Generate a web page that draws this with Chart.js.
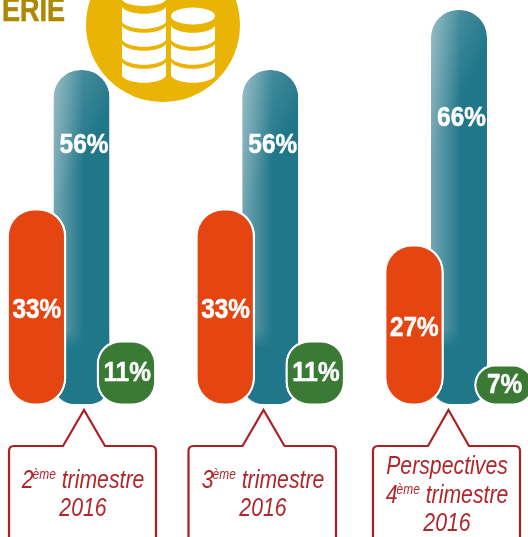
<!DOCTYPE html>
<html>
<head>
<meta charset="utf-8">
<script src="https://cdn.jsdelivr.net/npm/chart.js@4"></script>
<style>
html,body{margin:0;padding:0;background:#fff;width:528px;height:537px;overflow:hidden}
#art{position:absolute;left:0;top:0;z-index:1}
#c{position:absolute;left:0;top:0;z-index:2}
#title{position:absolute;left:2px;top:-7px;z-index:3;font:bold 33px/34px "Liberation Sans";color:#ad8800;transform:scaleX(.82);transform-origin:0 0;-webkit-text-stroke:.5px #ad8800}
.cap{position:absolute;z-index:3;width:148px;text-align:center;font:italic 25px/28.5px "Liberation Sans";color:#b0272b;white-space:nowrap;transform:scaleX(.85);transform-origin:50% 0}
.cap sup{font-size:14px;line-height:0;vertical-align:baseline;position:relative;top:-9px;margin-right:7px;margin-left:-1px}
</style>
</head>
<body>
<svg id="art" width="528" height="537" xmlns="http://www.w3.org/2000/svg">
  <circle cx="163" cy="25" r="77" fill="#e9b404"/>
  <g fill="#fff">
    <path d="M122 7C128 16 160 16 166 7V22C160 31 128 31 122 22Z"/>
    <ellipse cx="144" cy="-1" rx="22" ry="7"/>
    <path d="M122 26C128 35 160 35 166 26V40C160 49 128 49 122 40Z"/>
    <path d="M122 44C128 53 160 53 166 44V58C160 67 128 67 122 58Z"/>
    <path d="M122 62C128 71 160 71 166 62V76C160 85 128 85 122 76Z"/>
    <ellipse cx="193" cy="16" rx="22" ry="8.5"/>
    <path d="M171 26C177 35 209 35 215 26V40C209 49 177 49 171 40Z"/>
    <path d="M171 44C177 53 209 53 215 44V58C209 67 177 67 171 58Z"/>
    <path d="M171 62C177 71 209 71 215 62V76C209 85 177 85 171 76Z"/>
  </g>
  <g fill="none" stroke="#ae1f23" stroke-width="2.2" stroke-linejoin="miter">
    <path d="M9 540V451Q9 446 14 446H63L84 410L105 446H151Q156 446 156 451V540"/>
    <path d="M188.500 540V451Q188.500 446 193.500 446H242.500L263.500 410L284.500 446H331Q336 446 336 451V540"/>
    <path d="M373 540V451Q373 446 378 446H428L448.500 410L469 446H515Q520 446 520 451V540"/>
  </g>
</svg>
<canvas id="c" width="528" height="537"></canvas>
<div id="title">ERIE</div>
<script>
const categories = ["2ème trimestre 2016", "3ème trimestre 2016", "Perspectives 4ème trimestre 2016"];
const seriesOrange = [33, 33, 27];
const seriesTeal = [56, 56, 66];
const seriesGreen = [11, 11, 7];
const tealLabelShare = [0.775, 0.775, 0.727];
const captionLines = [
  [["2", "ème", " trimestre"], ["2016"]],
  [["3", "ème", " trimestre"], ["2016"]],
  [["Perspectives"], ["4", "ème", " trimestre"], ["2016"]]
];
const captionBoxes = [[9, 464.5], [188.5, 464.5], [373, 451]];
const TEAL = '#21778a';

captionLines.forEach((lines, i) => {
  const d = document.createElement('div');
  d.className = 'cap';
  d.style.left = captionBoxes[i][0] + 'px';
  d.style.top = captionBoxes[i][1] + 'px';
  lines.forEach(parts => {
    const l = document.createElement('div');
    parts.forEach((p, k) => {
      if (k === 1) { const s = document.createElement('sup'); s.textContent = p; l.appendChild(s); }
      else l.appendChild(document.createTextNode(k === 2 ? p.trim() : p));
    });
    d.appendChild(l);
  });
  document.body.appendChild(d);
});

function tealFill(ctx) {
  const chart = ctx.chart;
  const xs = chart.scales.x;
  if (ctx.type !== 'data' || !xs) return TEAL;
  const cx = xs.getPixelForValue(ctx.dataIndex);
  if (!Number.isFinite(cx)) return TEAL;
  const g = chart.ctx.createLinearGradient(cx - 28, 0, cx + 2, 0);
  g.addColorStop(0, '#74a7b3');
  g.addColorStop(1, TEAL);
  return g;
}

function shadeTeal(chart) {
  const c = chart.ctx;
  chart.getDatasetMeta(1).data.forEach(bar => {
    const left = bar.x - bar.width / 2;
    const top = bar.y;
    const bottom = bar.base;
    c.save();
    c.beginPath();
    c.roundRect(left, top, bar.width, bottom - top - 2, [27, 27, 22, 22]);
    c.clip();
    const sheen = c.createLinearGradient(left, top, left + 60, top + 31);
    sheen.addColorStop(0, 'rgba(255,255,255,0.26)');
    sheen.addColorStop(1, 'rgba(255,255,255,0)');
    c.fillStyle = sheen;
    c.fillRect(left, top, bar.width, bottom - top);
    const fade = c.createLinearGradient(0, bottom - 76, 0, bottom - 58);
    fade.addColorStop(0, 'rgba(33,119,138,0)');
    fade.addColorStop(1, 'rgba(33,119,138,1)');
    c.fillStyle = fade;
    c.fillRect(left, bottom - 76, bar.width, 76);
    c.restore();
  });
}

const drawOrder = {
  id: 'drawOrder',
  beforeDatasetDraw(chart, args) {
    if (args.index === 2 && !chart.$lift) return false;
  },
  afterDatasetDraw(chart, args) {
    if (args.index === 1) {
      shadeTeal(chart);
      chart.$lift = true;
      chart.getDatasetMeta(2).controller.draw();
      chart.$lift = false;
    }
  }
};

const barLabels = {
  id: 'barLabels',
  afterDatasetsDraw(chart) {
    const c = chart.ctx;
    const y = chart.scales.y;
    chart.data.datasets.forEach((ds, di) => {
      chart.getDatasetMeta(di).data.forEach((bar, i) => {
        const v = ds.data[i];
        const py = di === 1 ? y.getPixelForValue(v * tealLabelShare[i]) : (bar.y + bar.base) / 2 + (di === 0 ? 3 : 0);
        const px = bar.x + (di === 1 ? 2.5 : 0.5);
        c.save();
        c.fillStyle = '#fff';
        c.strokeStyle = '#fff';
        c.lineWidth = 0.5;
        c.font = 'bold 28px "Liberation Sans"';
        c.textAlign = 'center';
        c.textBaseline = 'middle';
        c.translate(px, py);
        c.scale(0.87, 1);
        c.fillText(v + '%', 0, 0);
        c.strokeText(v + '%', 0, 0);
        c.restore();
      });
    });
  }
};

new Chart(document.getElementById('c'), {
  type: 'bar',
  data: {
    labels: categories,
    datasets: [
      { label: 'a', data: seriesOrange, backgroundColor: '#e54511', borderColor: '#fff', borderWidth: 2.5, borderSkipped: false, borderRadius: 28, barPercentage: 60 / 45.1, categoryPercentage: 0.717, clip: false },
      { label: 'b', data: seriesTeal, backgroundColor: tealFill, borderColor: '#fff', borderWidth: { bottom: 2, top: 0, left: 0, right: 0 }, borderSkipped: false, borderRadius: { topLeft: 27, topRight: 27, bottomLeft: 22, bottomRight: 22 }, barPercentage: 56 / 45.1, categoryPercentage: 0.717, clip: false },
      { label: 'c', data: seriesGreen, backgroundColor: '#3a7a34', borderColor: '#fff', borderWidth: 2.5, borderSkipped: false, borderRadius: 24, barPercentage: 60 / 45.1, categoryPercentage: 0.717, clip: false }
    ]
  },
  options: {
    responsive: false,
    animation: false,
    layout: { padding: { left: 81.5, right: 69, top: 0, bottom: 131 } },
    plugins: { legend: { display: false }, tooltip: { enabled: false }, title: { display: false } },
    scales: {
      x: { display: false, offset: false },
      y: { display: false, min: 0, max: 67.667 }
    }
  },
  plugins: [drawOrder, barLabels]
});
</script>
</body>
</html>
